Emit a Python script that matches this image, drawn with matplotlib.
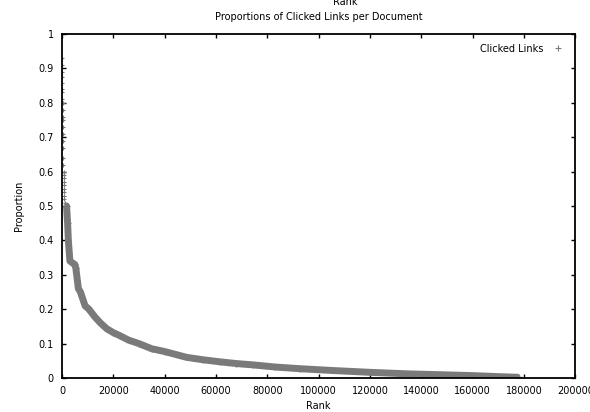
import matplotlib
matplotlib.use('Agg')
import matplotlib.pyplot as plt
from matplotlib.ticker import MultipleLocator

# points hugging the y axis (very small ranks)
head_rank = [20, 40, 60, 80, 100, 130, 160, 190, 220, 260, 300, 340, 380,
             420, 460, 500, 540, 580, 620, 660, 700, 740, 780, 820, 860, 900, 950, 1000]
head_prop = [0.93, 0.91, 0.89, 0.875, 0.857, 0.84, 0.83, 0.81, 0.80, 0.78, 0.76, 0.75, 0.73,
             0.71, 0.69, 0.67, 0.64, 0.62, 0.60, 0.59, 0.58, 0.57, 0.56, 0.55, 0.54, 0.53, 0.52, 0.51]

# main body of the curve
curve_rank = [1000, 1800, 2200, 2500, 3100, 5000, 5400, 6400, 7200, 9000, 10500,
              12900, 15000, 17500, 20000, 22600, 26000, 30000, 35000, 40000, 48600,
              55000, 61600, 68000, 74600, 83000, 92800, 105000, 120000, 135000,
              147400, 160000, 170000, 178000]
curve_prop = [0.50, 0.50, 0.45, 0.40, 0.34, 0.33, 0.32, 0.26, 0.25, 0.21, 0.20,
              0.177, 0.16, 0.143, 0.132, 0.123, 0.11, 0.10, 0.085, 0.077, 0.060,
              0.053, 0.047, 0.042, 0.038, 0.032, 0.027, 0.022, 0.0165, 0.012,
              0.0096, 0.007, 0.004, 0.002]

grey = '#7a7a7a'

fig = plt.figure(figsize=(5.9, 4.12), dpi=100)
ax = fig.add_axes([0.105, 0.0825, 0.87, 0.835])

ax.plot(curve_rank, curve_prop, color=grey, lw=5, solid_capstyle='butt')
ax.plot(curve_rank, curve_prop, '+', color=grey, ms=5, mew=1.0)
ax.plot(head_rank, head_prop, '+', color=grey, ms=3.5, mew=0.8, label='Clicked Links')

ax.set_xlim(0, 200000)
ax.set_ylim(0, 1)
ax.xaxis.set_major_locator(MultipleLocator(20000))
ax.yaxis.set_major_locator(MultipleLocator(0.1))
ax.yaxis.set_major_formatter(plt.FuncFormatter(lambda v, p: '%g' % round(v, 1)))
ax.tick_params(direction='in', top=True, right=True, length=3, width=1,
               labelsize=7, colors='black', pad=6)
for s in ax.spines.values():
    s.set_linewidth(1.3)

ax.set_xlabel('Rank', fontsize=7, labelpad=3)
ax.set_ylabel('Proportion', fontsize=7, labelpad=10)
ax.set_title('Proportions of Clicked Links per Document', fontsize=7, pad=10)
fig.text(0.585, 0.995, 'Rank', fontsize=7, ha='center', va='center')

ax.legend(loc='upper right', frameon=False, fontsize=7, markerfirst=False,
          handlelength=1.5, borderaxespad=0.6, markerscale=1.4)

fig.savefig('out.png', dpi=100)
